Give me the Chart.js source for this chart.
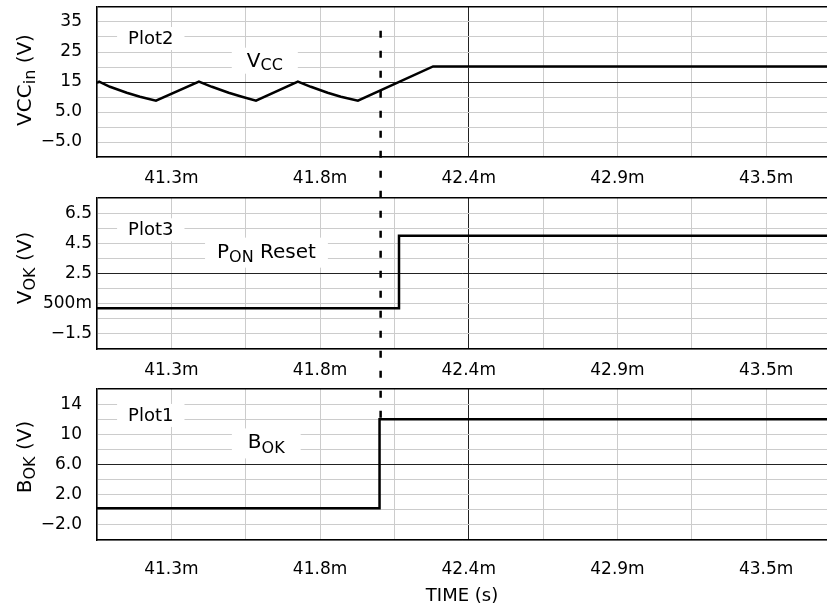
<!DOCTYPE html>
<html>
<head>
<meta charset="utf-8">
<script src="https://cdn.jsdelivr.net/npm/chart.js@4.4.0/dist/chart.umd.min.js"></script>
<style>
  html, body { margin: 0; padding: 0; background: #fff; }
  #wrap { position: relative; width: 827px; height: 614px; overflow: hidden; }
  canvas { position: absolute; left: 0; }
</style>
</head>
<body>
<div id="wrap">
  <canvas id="vcc" width="827" height="190" style="top:0px"></canvas>
  <canvas id="vok" width="827" height="190" style="top:190px"></canvas>
  <canvas id="bok" width="827" height="234" style="top:380px"></canvas>
</div>
<script>
// time axis (ms)
const timeMin = 41.0;
const timeMax = 43.70;
const timeGrid = [41.0, 41.275, 41.55, 41.825, 42.1, 42.375, 42.65, 42.925, 43.2, 43.475];
const timeTickValues = [41.275, 41.825, 42.375, 42.925, 43.475];
const timeTickLabels = ["41.3m", "41.8m", "42.4m", "42.9m", "43.5m"];
const markerTime = 42.049;

// Plot2 - VCCin
const vccTime  = [41.0, 41.008, 41.048, 41.110, 41.159, 41.218, 41.377, 41.425, 41.487, 41.536, 41.588,
                  41.743, 41.791, 41.853, 41.902, 41.965, 42.243, 43.70];
const vccValue = [14.7, 15.1, 13.4, 11.4, 10.1, 8.8, 15.1, 13.4, 11.4, 10.1, 8.8,
                  15.1, 13.4, 11.4, 10.1, 8.8, 20.2, 20.2];
const vccGrid = [-10, -5, 0, 5, 10, 15, 20, 25, 30, 35, 40];
const vccTickValues = [35, 25, 15, 5, -5];
const vccTickLabels = ["35", "25", "15", "5.0", "\u22125.0"];

// Plot3 - VOK
const vokTime  = [41.0, 42.117, 42.117, 43.70];
const vokValue = [0.2, 0.2, 5.0, 5.0];
const vokGrid = [-2.5, -1.5, -0.5, 0.5, 1.5, 2.5, 3.5, 4.5, 5.5, 6.5, 7.5];
const vokTickValues = [6.5, 4.5, 2.5, 0.5, -1.5];
const vokTickLabels = ["6.5", "4.5", "2.5", "500m", "\u22121.5"];

// Plot1 - BOK
const bokTime  = [41.0, 42.045, 42.045, 43.70];
const bokValue = [0.2, 0.2, 12.0, 12.0];
const bokGrid = [-4, -2, 0, 2, 4, 6, 8, 10, 12, 14, 16];
const bokTickValues = [14, 10, 6, 2, -2];
const bokTickLabels = ["14", "10", "6.0", "2.0", "\u22122.0"];

const FONT = '"DejaVu Sans", sans-serif';
const near = (a, b) => Math.abs(a - b) < 1e-6;

function labelFor(v, values, labels) {
  const i = values.findIndex(tv => near(tv, v));
  return i < 0 ? "" : labels[i];
}

function richWidth(ctx, parts) {
  let w = 0;
  for (const [text, size] of parts) {
    ctx.font = size + "px " + FONT;
    w += ctx.measureText(text).width;
  }
  return w;
}

function drawRich(ctx, x, y, parts) {
  let cx = x;
  for (const [text, size, dy] of parts) {
    ctx.font = size + "px " + FONT;
    ctx.fillText(text, cx, y + dy);
    cx += ctx.measureText(text).width;
  }
}

const scopePlugin = {
  id: "scope",
  beforeDatasetsDraw(chart, args, opts) {
    const { ctx, scales: { x, y } } = chart;
    ctx.save();
    ctx.textAlign = "left";
    ctx.textBaseline = "alphabetic";
    for (const lab of opts.labels) {
      const px = x.getPixelForValue(lab.t);
      const py = y.getPixelForValue(lab.v);
      const w = richWidth(ctx, lab.parts);
      ctx.fillStyle = "#fff";
      ctx.fillRect(px - lab.pad, py - lab.up, w + 2 * lab.pad, lab.up + lab.down);
      ctx.fillStyle = "#000";
      drawRich(ctx, px, py, lab.parts);
    }
    ctx.restore();
  },
  afterDraw(chart, args, opts) {
    const { ctx, scales: { x, y } } = chart;
    // y axis title with subscript
    ctx.save();
    ctx.fillStyle = "#000";
    ctx.textAlign = "left";
    ctx.textBaseline = "alphabetic";
    ctx.translate(30.5, opts.titleY);
    ctx.rotate(-Math.PI / 2);
    const tw = richWidth(ctx, opts.title);
    drawRich(ctx, -tw / 2, 0, opts.title);
    ctx.restore();

    // dashed cursor
    const px = x.getPixelForValue(markerTime);
    const y0 = opts.cursor.from != null ? y.getPixelForValue(opts.cursor.from) : 0;
    const y1 = opts.cursor.to != null ? y.getPixelForValue(opts.cursor.to) : chart.height;
    ctx.save();
    ctx.strokeStyle = "#000";
    ctx.lineWidth = 2.5;
    ctx.setLineDash([7, 13]);
    ctx.lineDashOffset = opts.pageTop + y0 - 30.7;
    ctx.beginPath();
    ctx.moveTo(px, y0);
    ctx.lineTo(px, y1);
    ctx.stroke();
    ctx.restore();
  }
};

function makeChart(id, p) {
  const yMin = p.grid[0], yMax = p.grid[p.grid.length - 1];
  return new Chart(document.getElementById(id), {
    type: "line",
    data: {
      datasets: [{
        data: p.time.map((t, i) => ({ x: t, y: p.value[i] })),
        borderColor: "#000",
        borderWidth: 2.5,
        pointRadius: 0,
        tension: 0,
        fill: false
      }]
    },
    options: {
      responsive: false,
      animation: false,
      events: [],
      layout: { padding: { top: p.padTop, left: 0, right: 0, bottom: 0 } },
      plugins: {
        legend: { display: false },
        tooltip: { enabled: false },
        scope: { labels: p.labels, title: p.title, titleY: p.titleY, cursor: p.cursor, pageTop: p.pageTop }
      },
      scales: {
        x: {
          type: "linear",
          min: timeMin,
          max: timeMax,
          afterBuildTicks: s => { s.ticks = timeGrid.map(v => ({ value: v })); },
          afterFit: s => { s.height = p.xHeight; s.paddingLeft = 0; s.paddingRight = 0; },
          ticks: {
            autoSkip: false,
            maxRotation: 0,
            padding: p.xPad,
            color: "#000",
            font: { family: FONT, size: 17 },
            callback: v => labelFor(v, timeTickValues, timeTickLabels)
          },
          grid: {
            drawTicks: false,
            color: c => near(c.tick.value, 42.375) ? "#222" : "#cccccc",
            lineWidth: 1
          },
          border: { color: "#000", width: 1.5 },
          title: {
            display: !!p.xTitle,
            text: p.xTitle || "",
            color: "#000",
            font: { family: FONT, size: 18 },
            padding: { top: 0, bottom: 7 }
          }
        },
        y: {
          min: yMin,
          max: yMax,
          afterBuildTicks: s => { s.ticks = p.grid.map(v => ({ value: v })); },
          afterFit: s => { s.width = 97; s.paddingTop = 0; s.paddingBottom = 0; },
          ticks: {
            autoSkip: false,
            padding: p.yPad,
            color: "#000",
            font: { family: FONT, size: 17 },
            callback: v => labelFor(v, p.tickValues, p.tickLabels)
          },
          grid: {
            drawTicks: false,
            color: c => near(c.tick.value, yMax) ? "#000" : (near(c.tick.value, p.dark) ? "#222" : "#cccccc"),
            lineWidth: c => near(c.tick.value, yMax) ? 1.5 : 1
          },
          border: { color: "#000", width: 1.5 }
        }
      }
    },
    plugins: [scopePlugin]
  });
}

makeChart("vcc", {
  time: vccTime, value: vccValue, grid: vccGrid,
  tickValues: vccTickValues, tickLabels: vccTickLabels, dark: 15,
  padTop: 7, xHeight: 33, xPad: 11, yPad: 15, pageTop: 0,
  title: [["VCC", 20, 0], ["in", 16, 4], [" (V)", 20, 0]], titleY: 80,
  cursor: { from: 32.1, to: null },
  labels: [
    { t: 41.115, v: 27.67, pad: 11, up: 17, down: 6, parts: [["Plot2", 18, 0]] },
    { t: 41.554, v: 20.1, pad: 15, up: 19, down: 7, parts: [["V", 20, 0], ["CC", 16, 3]] }
  ]
});

makeChart("vok", {
  time: vokTime, value: vokValue, grid: vokGrid,
  tickValues: vokTickValues, tickLabels: vokTickLabels, dark: 2.5,
  padTop: 8, xHeight: 31, xPad: 11, yPad: 5, pageTop: 190,
  title: [["V", 20, 0], ["OK", 16, 4], [" (V)", 20, 0]], titleY: 78,
  cursor: { from: null, to: null },
  labels: [
    { t: 41.115, v: 5.03, pad: 11, up: 17, down: 6, parts: [["Plot3", 18, 0]] },
    { t: 41.444, v: 3.55, pad: 12, up: 20, down: 10, parts: [["P", 20, 0], ["ON", 16, 4], [" Reset", 20, 0]] }
  ]
});

makeChart("bok", {
  time: bokTime, value: bokValue, grid: bokGrid,
  tickValues: bokTickValues, tickLabels: bokTickLabels, dark: 6,
  padTop: 9, xHeight: 74, xPad: 19, yPad: 15, pageTop: 380,
  xTitle: "TIME (s)",
  title: [["B", 20, 0], ["OK", 16, 4], [" (V)", 20, 0]], titleY: 77,
  cursor: { from: null, to: 12 },
  labels: [
    { t: 41.115, v: 11.77, pad: 11, up: 17, down: 6, parts: [["Plot1", 18, 0]] },
    { t: 41.558, v: 8.13, pad: 16, up: 20, down: 10, parts: [["B", 20, 0], ["OK", 16, 5]] }
  ]
});
</script>
</body>
</html>
